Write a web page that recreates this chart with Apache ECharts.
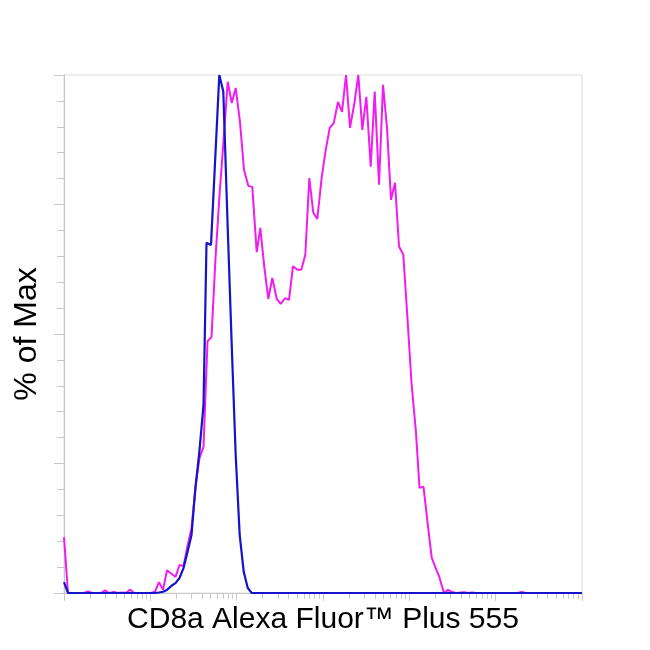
<!DOCTYPE html>
<html>
<head>
<meta charset="utf-8">
<script src="https://cdn.jsdelivr.net/npm/echarts@6/dist/echarts.min.js"></script>
<style>html,body{margin:0;padding:0;background:#fff}#c{width:650px;height:650px}</style>
</head>
<body>
<div id="c"></div>
<script>
// Sample (magenta) histogram: fluorescence intensity / % of max
const magentaX = [10, 11.13, 17.05, 18.97, 21.10, 26.83, 29.85, 33.21, 37.95, 42.22, 46.97, 52.27, 58.14, 64.70,
  101.8, 113.3, 126.0, 140.2, 156.0, 175.9, 195.7, 217.7, 242.2, 269.5, 299.9, 333.7, 371.3, 413.0, 459.5, 511.2,
  568.8, 632.9, 706, 787.5, 876.3, 974.8, 1093, 1216, 1364, 1518, 1707, 1879, 2091, 2326, 2587, 2910, 3237, 3630,
  4040, 4494, 5040, 5608, 6240, 6941, 7723, 8593, 9663, 10750, 11960, 13310, 14930, 16610, 18480, 20560, 23060,
  25650, 28540, 31750, 35710, 39720, 44560, 49560, 55140, 61340, 68250, 75940, 85180, 94760, 106000, 119500,
  131200, 146000, 162400, 181700, 202100, 222500, 252100, 280500, 312200, 347300, 430000, 478200, 532300, 592000,
  1791000, 2003000, 2246000, 10000000];
const magentaY = [10.8, 0, 0, 0.3, 0, 0, 0.5, 0, 0.2, 0, 0.1, 0, 0.7, 0,
  0, 0.25, 2.1, 0.6, 4.4, 3.7, 3.1, 5.4, 5.2, 9.1, 12.5, 20.5, 26.1, 28.2, 48.6, 49.4,
  64.7, 76.8, 87.5, 98.7, 94.6, 97.5, 90.9, 81.7, 78.6, 78.4, 65.8, 70.5, 62.9, 56.8, 60.8, 56.8, 55.8, 56.9,
  56.6, 63.1, 62.4, 62.4, 65.3, 80.1, 73.4, 72.2, 80.3, 85.5, 89.8, 90.7, 94.8, 92.9, 100, 89.8, 94.5,
  100, 89.4, 95.8, 82.3, 96.8, 78.8, 98.1, 89.8, 75.9, 79.2, 66.9, 65.3, 53.5, 40.5, 30.9,
  20.3, 20.5, 13.7, 6.8, 4.8, 3.1, 0, 0.6, 0.2, 0, 0.15, 0, 0.1, 0,
  0, 0.2, 0, 0];

// Control (blue) histogram
const blueX = [10, 11.13, 101.8, 113.3, 126.0, 140.2, 156.0, 175.9, 195.7, 217.7, 242.2, 269.5, 299.9, 333.7,
  371.3, 413.0, 447.4, 504.4, 629.5, 700.3, 787.5, 876.3, 974.8, 1084, 1207, 1342, 1494, 10000000];
const blueY = [2.1, 0, 0, 0, 0.1, 0.25, 0.6, 1.4, 1.9, 2.9, 4.8, 7.9, 11.2, 20.5,
  27.6, 36.3, 67.6, 67.2, 100, 96.8, 70.5, 47.9, 26.6, 11.2, 4.1, 1.0, 0, 0];

// Axis ticks
const xMajorTicks = [10, 100, 1000, 10000, 100000, 1000000, 10000000];
const xMinorTicks = [];
[10, 100, 1000, 10000, 100000, 1000000].forEach(d => {
  [2, 3, 4, 5, 6, 7, 8, 9].forEach(k => xMinorTicks.push(k * d));
});
const xTitle = 'CD8a Alexa Fluor™ Plus 555';
const yTitle = '% of Max';

const zip = (xs, ys) => xs.map((x, i) => [x, ys[i]]);
const chart = echarts.init(document.getElementById('c'), null, {renderer: 'canvas'});
const font = '"Liberation Sans", Arial, sans-serif';
const tickColor = '#c8c8c8';
chart.setOption({
  animation: false,
  backgroundColor: '#fff',
  grid: {left: 64, right: 68, top: 75, bottom: 57, show: true, borderColor: '#dcdcdc', borderWidth: 1, containLabel: false},
  xAxis: [
    {type: 'log', logBase: 10, min: 10, max: 10000000, position: 'bottom',
     axisLine: {show: true, lineStyle: {color: tickColor, width: 1}},
     axisTick: {show: true, inside: false, length: 8, customValues: xMajorTicks, lineStyle: {color: tickColor}},
     axisLabel: {show: false}, splitLine: {show: false},
     name: xTitle, nameLocation: 'middle', nameGap: 12,
     nameTextStyle: {fontFamily: font, fontSize: 30, color: '#000'}},
    {type: 'log', logBase: 10, min: 10, max: 10000000, position: 'bottom',
     axisLine: {show: false},
     axisTick: {show: true, inside: false, length: 6, customValues: xMinorTicks, lineStyle: {color: tickColor}},
     axisLabel: {show: false}, splitLine: {show: false}}
  ],
  yAxis: [
    {type: 'value', min: 0, max: 100, interval: 25, position: 'left',
     axisLine: {show: true, lineStyle: {color: tickColor, width: 1}},
     axisTick: {show: true, inside: false, length: 10, lineStyle: {color: tickColor}},
     axisLabel: {show: false}, splitLine: {show: false},
     name: yTitle, nameLocation: 'middle', nameGap: 21, nameRotate: 90,
     nameTextStyle: {fontFamily: font, fontSize: 32, color: '#000'}},
    {type: 'value', min: 0, max: 100, interval: 5, position: 'left',
     axisLine: {show: false},
     axisTick: {show: true, inside: false, length: 7, lineStyle: {color: tickColor}},
     axisLabel: {show: false}, splitLine: {show: false}}
  ],
  series: [
    {name: 'Sample', type: 'line', data: zip(magentaX, magentaY), xAxisIndex: 0, yAxisIndex: 0,
     showSymbol: false, symbol: 'none', lineStyle: {color: '#f01cf0', width: 2}, z: 2},
    {name: 'Control', type: 'line', data: zip(blueX, blueY), xAxisIndex: 0, yAxisIndex: 0,
     showSymbol: false, symbol: 'none', lineStyle: {color: '#1414c8', width: 2.2}, z: 3}
  ]
});
</script>
</body>
</html>
